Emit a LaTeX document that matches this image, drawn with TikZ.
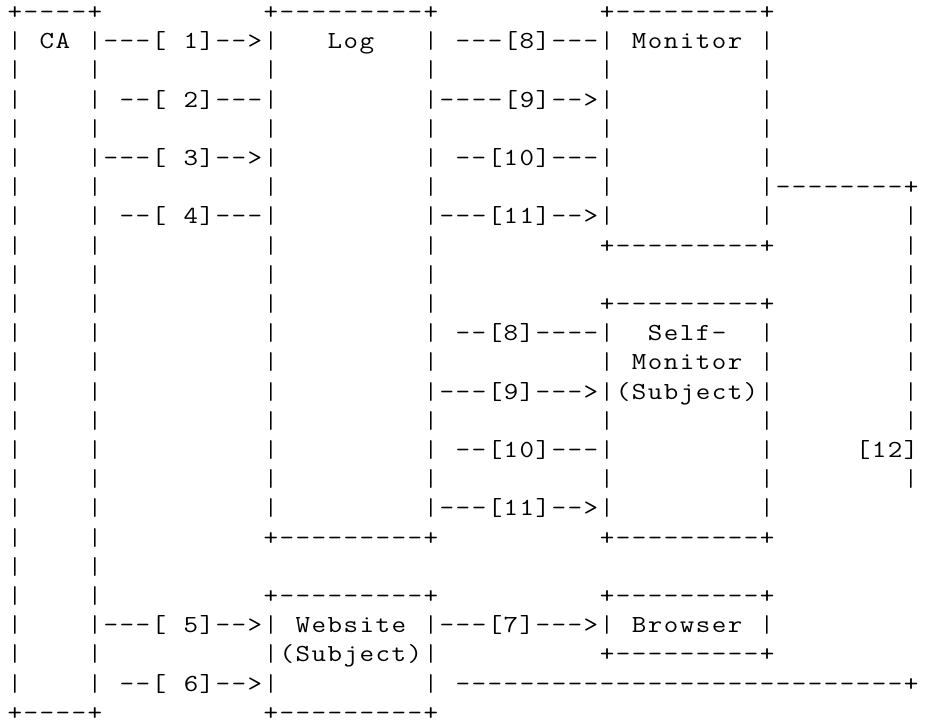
\documentclass[tikz,border=0pt]{standalone}
\usepackage{fontspec}
\usepackage{graphicx}
\newcommand\sx[1]{\scalebox{1.15}[1]{#1}}
\makeatletter
\def\ascii#1{\ascii@a#1\relax}
\def\ascii@a#1{\ifx#1\relax\else\makebox[16pt]{\sx{#1}}\expandafter\ascii@a\fi}
\makeatother
\newcommand\asciifont{\ttfamily\fontsize{24.5pt}{29pt}\selectfont}
\tikzset{
  ch/.style={anchor=base, inner sep=0pt, outer sep=0pt, text depth=0pt, font=\asciifont},
  txt/.style={anchor=base west, inner sep=0pt, outer sep=0pt, text depth=0pt, font=\asciifont},
}
\newcommand\asciibox[4]{%
  \pgfmathtruncatemacro\bxa{#1+1}\pgfmathtruncatemacro\bxb{#3-1}%
  \pgfmathtruncatemacro\bya{#2+1}\pgfmathtruncatemacro\byb{#4-1}%
  \foreach \c in {\bxa,...,\bxb}{\node[ch] at (\c,#2) {\sx{-}}; \node[ch] at (\c,#4) {\sx{-}};}%
  \foreach \r in {\bya,...,\byb}{\node[ch] at (#1,\r) {|}; \node[ch] at (#3,\r) {|};}%
  \foreach \c/\r in {#1/#2,#3/#2,#1/#4,#3/#4}{\node[ch] at (\c,\r) {\sx{+}};}%
}
\begin{document}
\begin{tikzpicture}
\useasboundingbox (0pt,0pt) rectangle (935pt,-724pt);
\begin{scope}[x=16pt,y=-29.2pt,shift={(15pt,-19.5pt)}]
  % boxes
  \asciibox{0}{0}{5}{24}
  \asciibox{16}{0}{26}{18}
  \asciibox{37}{0}{47}{8}
  \asciibox{37}{10}{47}{18}
  \asciibox{16}{20}{26}{24}
  \asciibox{37}{20}{47}{22}
  % box labels
  \node[txt] (ca) at (1.5,1) {\ascii{CA}};
  \node[txt] (log) at (19.5,1) {\ascii{Log}};
  \node[txt] (monitor) at (38.5,1) {\ascii{Monitor}};
  \node[txt] (self1) at (39.5,11) {\ascii{Self-}};
  \node[txt] (self2) at (38.5,12) {\ascii{Monitor}};
  \node[txt] (self3) at (37.5,13) {\ascii{(Subject)}};
  \node[txt] (web1) at (17.5,21) {\ascii{Website}};
  \node[txt] (web2) at (16.5,22) {\ascii{(Subject)}};
  \node[txt] (browser) at (38.5,21) {\ascii{Browser}};
  % connectors CA -> Log
  \node[txt] (c1) at (5.5,1) {\ascii{---[~1]-->}};
  \node[txt] (c2) at (6.5,3) {\ascii{--[~2]---}};
  \node[txt] (c3) at (5.5,5) {\ascii{---[~3]-->}};
  \node[txt] (c4) at (6.5,7) {\ascii{--[~4]---}};
  \node[txt] (c5) at (5.5,21) {\ascii{---[~5]-->}};
  \node[txt] (c6) at (6.5,23) {\ascii{--[~6]-->}};
  % connectors Log -> Monitor
  \node[txt] (m8) at (27.5,1) {\ascii{---[8]---}};
  \node[txt] (m9) at (26.5,3) {\ascii{----[9]-->}};
  \node[txt] (m10) at (27.5,5) {\ascii{--[10]---}};
  \node[txt] (m11) at (26.5,7) {\ascii{---[11]-->}};
  % connectors Log -> Self-Monitor
  \node[txt] (s8) at (27.5,11) {\ascii{--[8]----}};
  \node[txt] (s9) at (26.5,13) {\ascii{---[9]--->}};
  \node[txt] (s10) at (27.5,15) {\ascii{--[10]---}};
  \node[txt] (s11) at (26.5,17) {\ascii{---[11]-->}};
  % Website -> Browser
  \node[txt] (w7) at (26.5,21) {\ascii{---[7]--->}};
  % loop [12]
  \foreach \c in {48,...,55}{\node[ch] at (\c,6) {\sx{-}};}
  \node[ch] (corner1) at (56,6) {\sx{+}};
  \foreach \r in {7,...,14,16,...,22}{\node[ch] at (56,\r) {|};}
  \node[txt] (l12) at (52.5,15) {\ascii{[12]}};
  \foreach \c in {28,...,55}{\node[ch] at (\c,23) {\sx{-}};}
  \node[ch] (corner2) at (56,23) {\sx{+}};
\end{scope}
\end{tikzpicture}
\end{document}
